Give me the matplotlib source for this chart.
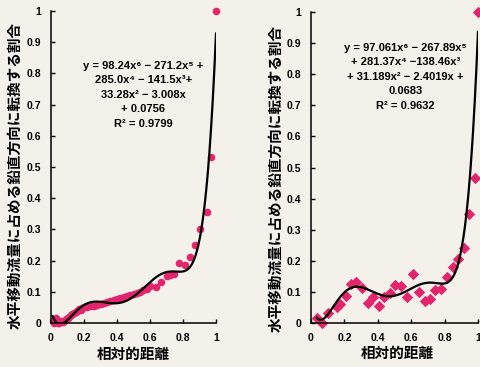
import numpy as np
import matplotlib.pyplot as plt

plt.rcParams['font.family'] = ['Liberation Sans', 'DejaVu Sans']

# left panel: circles
left_x = [0.01, 0.02, 0.03, 0.04, 0.05, 0.06, 0.07, 0.08, 0.09, 0.10, 0.11, 0.12,
          0.13, 0.14, 0.15, 0.16, 0.17, 0.18, 0.19, 0.20, 0.22, 0.24, 0.26, 0.28,
          0.30, 0.32, 0.34, 0.36, 0.38, 0.40, 0.42, 0.44, 0.46, 0.48, 0.50, 0.52,
          0.54, 0.56, 0.58, 0.60, 0.635, 0.665, 0.70, 0.72, 0.745, 0.778, 0.812,
          0.84, 0.87, 0.903, 0.943, 0.968, 1.0]
left_y = [0.005, 0.0, 0.015, 0.0, 0.0, 0.005, 0.003, 0.008, 0.012, 0.015, 0.02, 0.025,
          0.03, 0.033, 0.036, 0.04, 0.045, 0.042, 0.048, 0.05, 0.052, 0.054, 0.056, 0.058,
          0.060, 0.063, 0.066, 0.069, 0.075, 0.078, 0.08, 0.083, 0.086, 0.09, 0.093, 0.097,
          0.10, 0.105, 0.11, 0.12, 0.115, 0.13, 0.15, 0.155, 0.157, 0.191, 0.186,
          0.212, 0.25, 0.30, 0.357, 0.533, 1.0]

# right panel: diamonds
right_x = [0.035, 0.065, 0.10, 0.155, 0.175, 0.21, 0.24, 0.27, 0.305, 0.34, 0.37,
           0.405, 0.44, 0.475, 0.505, 0.54, 0.575, 0.61, 0.645, 0.68, 0.71, 0.745,
           0.78, 0.815, 0.85, 0.88, 0.915, 0.945, 0.985, 1.0]
right_y = [0.015, 0.0, 0.033, 0.052, 0.061, 0.087, 0.124, 0.131, 0.114, 0.065, 0.085,
           0.055, 0.083, 0.097, 0.122, 0.118, 0.085, 0.158, 0.10, 0.071, 0.076, 0.106,
           0.11, 0.147, 0.181, 0.205, 0.24, 0.35, 0.465, 1.0]
right_coef = [97.061, -267.89, 281.37, -138.46, 31.189, -2.4019, 0.0683]

left_eq = "y = 98.24x\u2076 \u2212 271.2x\u2075 +\n285.0x\u2074 \u2212 141.5x\u00b3+\n33.28x\u00b2 \u2212 3.008x\n+ 0.0756\nR\u00b2 = 0.9799"
right_eq = "y = 97.061x\u2076 \u2212 267.89x\u2075\n+ 281.37x\u2074 \u2212138.46x\u00b3\n+ 31.189x\u00b2 \u2212 2.4019x +\n0.0683\nR\u00b2 = 0.9632"

ylab = "水平移動流量に占める鉛直方向に転換する割合"
xlab = "相対的距離"
yticks = [0, 0.1, 0.2, 0.3, 0.4, 0.5, 0.6, 0.7, 0.8, 0.9, 1]
ytlabels = ["0", "0.1", "0.2", "0.3", "0.4", "0.5", "0.6", "0.7", "0.8", "0.9", "1"]
xticks = [0, 0.2, 0.4, 0.6, 0.8, 1]
xtlabels = ["0", "0.2", "0.4", "0.6", "0.8", "1"]

bg = '#f3f1ea'
pink = '#e2256c'
jp = ['Noto Sans CJK JP', 'DejaVu Sans']

fig = plt.figure(figsize=(4.81, 3.67), dpi=100, facecolor=bg)
W, H = 481, 367


def make_axes(x0, x1, y0, y1):
    ax = fig.add_axes([x0 / W, (H - y0) / H, (x1 - x0) / W, (y0 - y1) / H])
    ax.set_facecolor(bg)
    ax.set_xlim(0, 1)
    ax.set_ylim(0, 1)
    for s in ['top', 'right']:
        ax.spines[s].set_visible(False)
    for s in ['left', 'bottom']:
        ax.spines[s].set_linewidth(1.1)
    ax.set_yticks(yticks)
    ax.set_yticklabels(ytlabels)
    ax.set_xticks(xticks)
    ax.set_xticklabels(xtlabels)
    ax.tick_params(direction='in', length=3, width=1, labelsize=7.5, pad=7)
    for t in ax.get_xticklabels() + ax.get_yticklabels():
        t.set_fontweight('bold')
    return ax


# left chart
ax1 = make_axes(51, 216, 323, 11)
ax1.scatter(left_x, left_y, s=30, color=pink, marker='o', clip_on=False, zorder=2, linewidths=0)
coef_l = np.polyfit(left_x, left_y, 6)
xs = np.linspace(min(left_x), max(left_x), 300)
ax1.plot(xs, np.polyval(coef_l, xs), color='black', lw=1.6, zorder=3)
ax1.text(0.56, 0.84, left_eq, transform=ax1.transAxes, ha='center', va='top',
         fontsize=8, fontweight='bold', linespacing=1.55)

# right chart
ax2 = make_axes(311, 478, 323, 12)
ax2.scatter(right_x, right_y, s=34, color=pink, marker='D', clip_on=False, zorder=2, linewidths=0)
xs = np.linspace(0.035, 1.0, 300)
ax2.plot(xs, np.polyval(right_coef, xs), color='black', lw=1.6, zorder=3)
ax2.text(0.565, 0.9, right_eq, transform=ax2.transAxes, ha='center', va='top',
         fontsize=8, fontweight='bold', linespacing=1.55)

# axis titles
fig.text(15 / W, (H - 175) / H, ylab, rotation=90, ha='center', va='center',
         fontsize=10.5, fontweight='bold', family=jp)
fig.text(276 / W, (H - 178) / H, ylab, rotation=90, ha='center', va='center',
         fontsize=10.5, fontweight='bold', family=jp)
fig.text(133 / W, (H - 354) / H, xlab, ha='center', va='center',
         fontsize=10.5, fontweight='bold', family=jp)
fig.text(397 / W, (H - 353) / H, xlab, ha='center', va='center',
         fontsize=10.5, fontweight='bold', family=jp)

fig.savefig('out.png', dpi=100, facecolor=bg)
